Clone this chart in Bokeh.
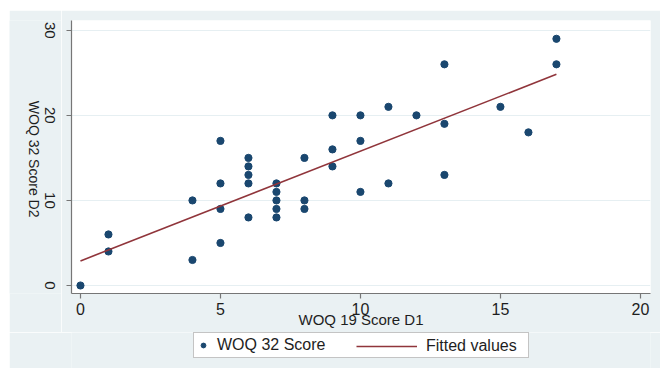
import math
import numpy as np
from bokeh.plotting import figure
from bokeh.layouts import column, row
from bokeh.models import Range1d, Legend, LegendItem, FixedTicker, Label
from bokeh.embed import file_html
from bokeh.resources import INLINE

# Data
woq19_d1 = [0, 1, 1, 4, 4, 5, 5, 5, 5, 6, 6, 6, 6, 6, 7, 7, 7, 7, 7, 8, 8, 8,
            9, 9, 9, 10, 10, 10, 11, 11, 12, 13, 13, 13, 15, 16, 17, 17]
woq32_d2 = [0, 4, 6, 3, 10, 5, 9, 12, 17, 8, 12, 13, 14, 15, 8, 9, 10, 11, 12, 9, 10, 15,
            14, 16, 20, 11, 17, 20, 12, 21, 20, 13, 19, 26, 21, 18, 26, 29]
x_ticks = [0, 5, 10, 15, 20]
y_ticks = [0, 10, 20, 30]
x_title = "WOQ 19 Score D1"
y_title = "WOQ 32 Score D2"
series_points = "WOQ 32 Score"
series_fit = "Fitted values"

# Linear fit (fitted values) computed from the data
slope, intercept = np.polyfit(woq19_d1, woq32_d2, 1)
fit_x = [min(woq19_d1), max(woq19_d1)]
fit_y = [intercept + slope * v for v in fit_x]

FONT = "Liberation Sans"
TXT = "#1e1e1e"
BG = "#EAF1F3"
NAVY = "#1a476f"
MAROON = "#90353b"

W_TOTAL = 651
W_LEFT = 52
H_MAIN = 322
H_LEG = 36
B_TOP, B_BOTTOM = 10, 39

x_range = Range1d(-0.32, 20.36)
y_range = Range1d(-0.94, 31.15)   # shared by the plot and the left strip


def bare(fig):
    fig.background_fill_color = BG
    fig.border_fill_color = BG
    fig.outline_line_color = None
    fig.grid.visible = False


# Left strip: y tick labels and y-axis title, both reading top to bottom,
# positioned with the same y scale as the plot
L = figure(width=W_LEFT, height=H_MAIN, output_backend="svg", toolbar_location=None,
           x_range=Range1d(0, W_LEFT), y_range=y_range,
           x_axis_type=None, y_axis_type=None,
           min_border_left=0, min_border_right=0,
           min_border_top=B_TOP, min_border_bottom=B_BOTTOM)
bare(L)
for t in y_ticks:
    L.add_layout(Label(x=40, y=t, text=str(t), angle=-math.pi / 2,
                       text_align="center", text_baseline="middle",
                       text_font=FONT, text_font_size="15px", text_color=TXT))
L.add_layout(Label(x=24, y=(y_range.start + y_range.end) / 2 - 0.25, text=y_title,
                   angle=-math.pi / 2, text_align="center", text_baseline="middle",
                   text_font=FONT, text_font_size="14px", text_color=TXT))

# Main scatter plot
p = figure(width=W_TOTAL - W_LEFT, height=H_MAIN, output_backend="svg", toolbar_location=None,
           x_range=x_range, y_range=y_range,
           min_border_left=62 - W_LEFT, min_border_right=10,
           min_border_top=B_TOP, min_border_bottom=B_BOTTOM)
p.background_fill_color = "white"
p.border_fill_color = BG
p.outline_line_color = None

p.scatter(woq19_d1, woq32_d2, size=7.2, color=NAVY)
p.line(fit_x, fit_y, line_color=MAROON, line_width=1.6)

for ax in (p.xaxis[0], p.yaxis[0]):
    ax.axis_line_color = "#767676"
    ax.axis_line_width = 1.2
    ax.major_tick_line_color = "#767676"
    ax.major_tick_line_width = 1.2
    ax.major_tick_out = 5
    ax.major_tick_in = 0
    ax.minor_tick_line_color = None
    ax.major_label_text_font = FONT
    ax.major_label_text_color = TXT
    ax.axis_label_text_font = FONT
    ax.axis_label_text_font_style = "normal"
    ax.axis_label_text_color = TXT

p.xaxis[0].ticker = FixedTicker(ticks=x_ticks)
p.yaxis[0].ticker = FixedTicker(ticks=y_ticks)
p.xaxis[0].major_label_text_font_size = "16px"
p.xaxis[0].major_label_standoff = 4
# y tick labels are drawn in the left strip (rotated top-to-bottom, centred on ticks)
p.yaxis[0].major_label_overrides = {t: "" for t in y_ticks}
p.yaxis[0].major_label_text_font_size = "0px"
p.yaxis[0].major_label_standoff = 0

p.xaxis[0].axis_label = x_title
p.xaxis[0].axis_label_text_font_size = "15px"
p.xaxis[0].axis_label_standoff = -7

p.xgrid.visible = False
p.ygrid.ticker = FixedTicker(ticks=y_ticks)
p.ygrid.grid_line_color = "#E6EFF2"
p.ygrid.grid_line_width = 1.2

# Legend strip beneath the chart (key glyphs use the same data, kept out of view)
q = figure(width=W_TOTAL, height=H_LEG, output_backend="svg", toolbar_location=None,
           x_range=Range1d(1000, 1001), y_range=Range1d(1000, 1001),
           x_axis_type=None, y_axis_type=None,
           min_border_left=62, min_border_right=10, min_border_top=0, min_border_bottom=0)
bare(q)
k_pts = q.scatter(woq19_d1, woq32_d2, size=7.2, color=NAVY)
k_fit = q.line(fit_x, fit_y, line_color=MAROON, line_width=1.6)

leg1 = Legend(items=[LegendItem(label=series_points, renderers=[k_pts])],
              location=(122, 10), orientation="horizontal",
              glyph_width=12, glyph_height=18, label_standoff=8, label_width=308,
              padding=3, margin=0, spacing=0,
              border_line_color="#8a8a8a", border_line_width=1.5,
              background_fill_color="white", background_fill_alpha=1.0,
              label_text_font=FONT, label_text_font_size="16px", label_text_color=TXT)
leg2 = Legend(items=[LegendItem(label=series_fit, renderers=[k_fit])],
              location=(282, 10), orientation="horizontal",
              glyph_width=61, glyph_height=18, label_standoff=9,
              padding=3, margin=0, spacing=0,
              border_line_alpha=0.0, background_fill_alpha=0.0,
              label_text_font=FONT, label_text_font_size="16px", label_text_color=TXT)
q.add_layout(leg1, "center")
q.add_layout(leg2, "center")

layout = column(row(L, p, spacing=0), q, spacing=0)
layout.margin = (10, 0, 0, 9)
open("out.html", "w").write(file_html(layout, INLINE))
